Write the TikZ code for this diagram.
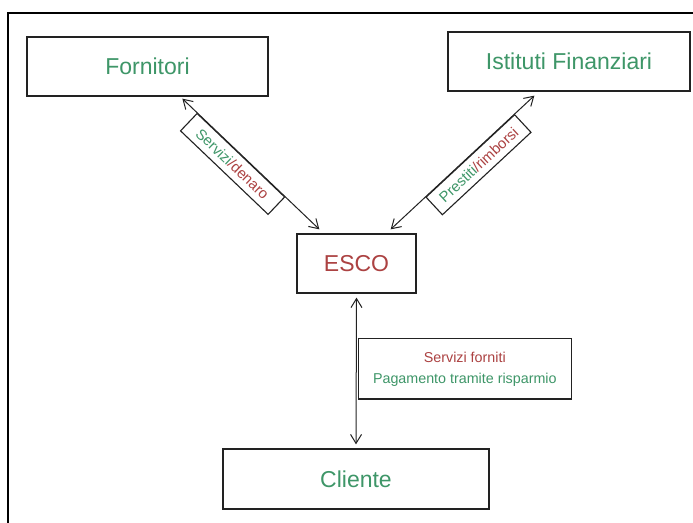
\documentclass[tikz,border=0pt]{standalone}
\usepackage{fontspec}
\setmainfont{Liberation Sans}
\usetikzlibrary{arrows.meta}
\definecolor{tgreen}{RGB}{62,150,104}
\definecolor{tred}{RGB}{172,66,66}
\definecolor{boxline}{RGB}{34,34,34}
\begin{document}
\begin{tikzpicture}[x=1pt,y=-1pt,
  bigbox/.style={draw=boxline,line width=1.3pt,inner sep=0pt,font=\fontsize{23}{27}\selectfont},
  lblbox/.style={draw=boxline,line width=1.1pt,fill=white,inner sep=0pt,minimum width=121pt,minimum height=24pt,font=\fontsize{14.8}{17}\selectfont},
  conn/.style={draw=boxline,line width=1pt,{Straight Barb[length=9pt,width=11pt]}-{Straight Barb[length=9pt,width=11pt]}}]
\useasboundingbox (0,0) rectangle (693,522);
\fill[white] (0,0) rectangle (693,522);
% outer frame (top and left edges visible)
\draw[line width=2pt,black] (8,540) -- (8,13) -- (710,13);
% boxes
\node[bigbox,minimum width=241pt,minimum height=59pt,text=tgreen] (forn) at (147.5,66.5) {Fornitori};
\node[bigbox,minimum width=242pt,minimum height=59pt,text=tgreen] (isti) at (569,61.5) {Istituti Finanziari};
\node[bigbox,minimum width=119pt,minimum height=59pt,text=tred] (esco) at (356.5,263.5) {ESCO};
\node[bigbox,minimum width=266pt,minimum height=60pt,text=tgreen] (cli) at (356,479) {Cliente};
% connectors
\draw[conn] ([xshift=156pt,yshift=-2pt]forn.south west) -- node[pos=0.43,sloped,anchor=north,lblbox]{\textcolor{tgreen}{Servizi}\textcolor{tred}{/denaro}} ([xshift=23pt,yshift=4pt]esco.north west);
\draw[conn] ([xshift=87pt,yshift=-4pt]isti.south west) -- node[pos=0.448,sloped,anchor=north,lblbox]{\textcolor{tgreen}{Prestiti}\textcolor{tred}{/rimborsi}} ([xshift=-26pt,yshift=4pt]esco.north east);
\draw[conn] ([yshift=-4pt]esco.south) -- node[pos=0.486,anchor=west,draw=boxline,line width=1.1pt,fill=white,minimum width=213pt,minimum height=60pt,inner sep=0pt,font=\fontsize{14.3}{21}\selectfont,align=center,xshift=1.5pt]{\textcolor{tred}{Servizi forniti}\\\textcolor{tgreen}{Pagamento tramite risparmio}} ([yshift=4pt]cli.north);
\end{tikzpicture}
\end{document}
